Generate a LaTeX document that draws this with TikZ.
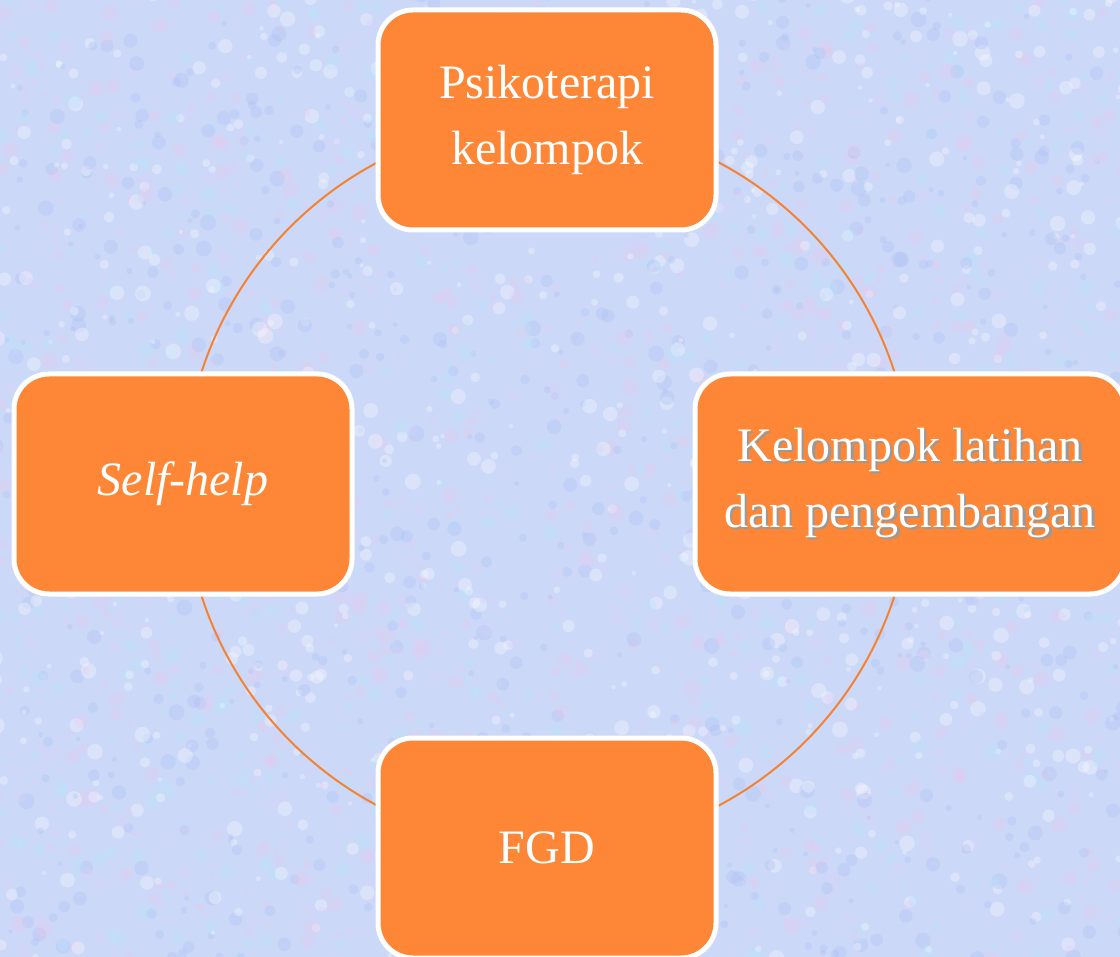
\documentclass[tikz,border=0pt]{standalone}
\usepackage{fontspec}
\setmainfont{Liberation Serif}
\definecolor{bgbase}{RGB}{204,216,248}
\definecolor{bgpink}{RGB}{236,200,236}
\definecolor{bgcyan}{RGB}{184,230,250}
\definecolor{bgblue}{RGB}{168,190,242}
\definecolor{bglav}{RGB}{216,210,250}
\definecolor{boxorange}{RGB}{253,135,55}
\definecolor{ringorange}{RGB}{245,130,50}
\newcommand{\shadline}[1]{\makebox[0pt][l]{\hspace{2.5pt}\raisebox{-2.5pt}{\textcolor{black!40}{#1}}}#1}
\tikzset{
  box/.style={draw=white, line width=5pt, fill=boxorange, rounded corners=35pt,
    minimum width=338pt, minimum height=220pt, inner sep=0pt, text=white,
    align=center, font=\fontsize{48}{66}\selectfont},
  wbox/.style={box, minimum width=430pt},
  ring/.style={draw=ringorange, line width=2pt}
}
\pgfmathdeclarerandomlist{bgcols}{{bgpink}{bgcyan}{bgblue}{bglav}{white}}
\begin{document}
\begin{tikzpicture}[x=1pt,y=-1pt]
\useasboundingbox (0,0) rectangle (1120,957);
\fill[bgbase] (0,0) rectangle (1120,957);
\pgfmathsetseed{17}
\begin{scope}
\clip (0,0) rectangle (1120,957);
\foreach \i in {1,...,3500}{
  \pgfmathsetmacro\px{rnd*1130-5}
  \pgfmathsetmacro\py{rnd*970-5}
  \pgfmathsetmacro\rr{2+rnd*6}
  \pgfmathrandomitem{\cc}{bgcols}
  \fill[\cc, opacity=0.3] (\px,\py) circle[radius=\rr pt];
}
\end{scope}
\coordinate (c) at (548,484);
\draw[ring] (c) circle[radius=364pt];
\node[box] (top) at (547,120) {Psikoterapi\\kelompok};
\node[box] (left) at (183,484) {\textit{Self-help}};
\node[wbox] (right) at (910,484) {\shadline{Kelompok latihan}\\\shadline{dan pengembangan}};
\node[box] (bottom) at (547,848) {FGD};
\end{tikzpicture}
\end{document}
